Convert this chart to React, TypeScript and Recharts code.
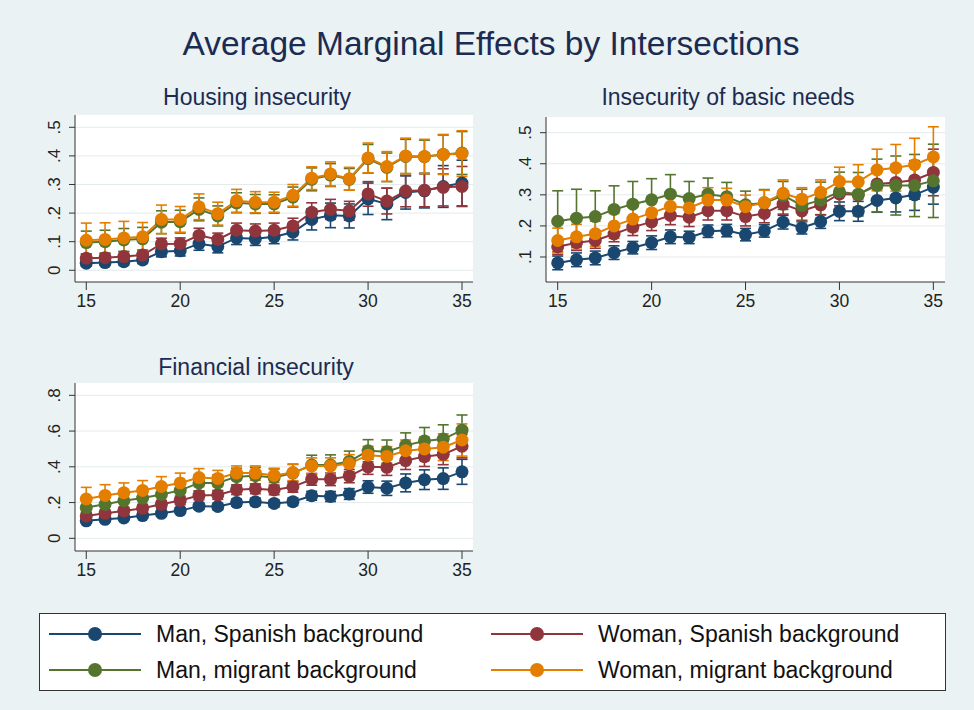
import { LineChart, Line, XAxis, YAxis, CartesianGrid, ErrorBar } from "recharts";

const ages = [15, 16, 17, 18, 19, 20, 21, 22, 23, 24, 25, 26, 27, 28, 29, 30, 31, 32, 33, 34, 35];

const seriesLabels = ["Man, Spanish background", "Woman, Spanish background", "Man, migrant background", "Woman, migrant background"];
const seriesColors = ["#1a476f", "#90353b", "#55752f", "#e37e00"];

// Housing insecurity
const housingManSp = [0.025, 0.027, 0.03, 0.036, 0.065, 0.068, 0.093, 0.083, 0.113, 0.11, 0.117, 0.133, 0.178, 0.192, 0.19, 0.25, 0.232, 0.272, 0.278, 0.293, 0.305];
const housingManSpCi = [0.01, 0.01, 0.012, 0.012, 0.018, 0.018, 0.023, 0.022, 0.023, 0.023, 0.024, 0.027, 0.037, 0.043, 0.042, 0.055, 0.055, 0.058, 0.06, 0.073, 0.08];
const housingWomanSp = [0.042, 0.044, 0.048, 0.053, 0.092, 0.093, 0.122, 0.108, 0.14, 0.137, 0.14, 0.155, 0.203, 0.213, 0.208, 0.267, 0.242, 0.277, 0.28, 0.29, 0.293];
const housingWomanSpCi = [0.015, 0.015, 0.017, 0.017, 0.02, 0.02, 0.025, 0.022, 0.025, 0.025, 0.025, 0.027, 0.033, 0.035, 0.033, 0.043, 0.045, 0.055, 0.058, 0.065, 0.07];
const housingManMig = [0.097, 0.1, 0.106, 0.11, 0.168, 0.17, 0.213, 0.19, 0.236, 0.232, 0.232, 0.256, 0.318, 0.333, 0.318, 0.39, 0.36, 0.398, 0.397, 0.405, 0.41];
const housingManMigCi = [0.04, 0.04, 0.04, 0.04, 0.04, 0.04, 0.04, 0.035, 0.035, 0.033, 0.032, 0.035, 0.04, 0.04, 0.038, 0.05, 0.05, 0.06, 0.058, 0.068, 0.075];
const housingWomanMig = [0.105, 0.108, 0.113, 0.117, 0.178, 0.178, 0.222, 0.198, 0.243, 0.238, 0.238, 0.262, 0.322, 0.337, 0.32, 0.393, 0.363, 0.4, 0.398, 0.405, 0.408];
const housingWomanMigCi = [0.06, 0.058, 0.058, 0.05, 0.05, 0.045, 0.045, 0.04, 0.04, 0.037, 0.035, 0.038, 0.04, 0.042, 0.04, 0.052, 0.052, 0.062, 0.06, 0.07, 0.08];

// Insecurity of basic needs
const basicManSp = [0.081, 0.091, 0.097, 0.114, 0.13, 0.146, 0.165, 0.163, 0.183, 0.185, 0.172, 0.184, 0.212, 0.194, 0.214, 0.247, 0.247, 0.282, 0.29, 0.3, 0.325];
const basicManSpCi = [0.022, 0.022, 0.022, 0.022, 0.02, 0.022, 0.022, 0.02, 0.02, 0.02, 0.02, 0.02, 0.022, 0.02, 0.022, 0.03, 0.032, 0.038, 0.045, 0.05, 0.055];
const basicWomanSp = [0.133, 0.146, 0.153, 0.174, 0.196, 0.213, 0.234, 0.228, 0.249, 0.249, 0.23, 0.24, 0.27, 0.248, 0.268, 0.303, 0.3, 0.335, 0.34, 0.348, 0.372];
const basicWomanSpCi = [0.025, 0.025, 0.025, 0.025, 0.027, 0.028, 0.03, 0.03, 0.03, 0.03, 0.03, 0.03, 0.032, 0.03, 0.032, 0.038, 0.04, 0.048, 0.055, 0.062, 0.075];
const basicManMig = [0.215, 0.225, 0.23, 0.253, 0.27, 0.284, 0.302, 0.288, 0.302, 0.294, 0.268, 0.274, 0.298, 0.266, 0.283, 0.31, 0.302, 0.33, 0.33, 0.33, 0.345];
const basicManMigCi = [0.098, 0.093, 0.083, 0.076, 0.073, 0.068, 0.063, 0.055, 0.052, 0.046, 0.044, 0.043, 0.045, 0.052, 0.058, 0.063, 0.07, 0.085, 0.095, 0.1, 0.118];
const basicWomanMig = [0.153, 0.165, 0.175, 0.2, 0.222, 0.242, 0.263, 0.258, 0.283, 0.283, 0.262, 0.275, 0.305, 0.286, 0.308, 0.343, 0.342, 0.38, 0.387, 0.397, 0.422];
const basicWomanMigCi = [0.04, 0.04, 0.04, 0.04, 0.04, 0.04, 0.04, 0.04, 0.04, 0.038, 0.037, 0.04, 0.043, 0.037, 0.04, 0.046, 0.055, 0.067, 0.075, 0.085, 0.097];

// Financial insecurity
const financeManSp = [0.098, 0.106, 0.114, 0.127, 0.14, 0.155, 0.18, 0.178, 0.2, 0.204, 0.195, 0.205, 0.238, 0.234, 0.248, 0.287, 0.28, 0.31, 0.328, 0.334, 0.372];
const financeManSpCi = [0.012, 0.012, 0.013, 0.014, 0.015, 0.016, 0.018, 0.018, 0.02, 0.02, 0.02, 0.021, 0.025, 0.028, 0.03, 0.035, 0.04, 0.05, 0.055, 0.06, 0.07];
const financeWomanSp = [0.125, 0.14, 0.153, 0.168, 0.19, 0.212, 0.24, 0.243, 0.272, 0.277, 0.271, 0.288, 0.33, 0.33, 0.348, 0.4, 0.397, 0.435, 0.457, 0.47, 0.515];
const financeWomanSpCi = [0.02, 0.02, 0.02, 0.022, 0.022, 0.024, 0.025, 0.025, 0.027, 0.027, 0.027, 0.03, 0.033, 0.035, 0.037, 0.042, 0.045, 0.05, 0.055, 0.058, 0.065];
const financeManMig = [0.172, 0.19, 0.21, 0.225, 0.245, 0.268, 0.31, 0.31, 0.345, 0.35, 0.34, 0.365, 0.41, 0.41, 0.43, 0.49, 0.485, 0.52, 0.545, 0.555, 0.605];
const financeManMigCi = [0.04, 0.04, 0.04, 0.04, 0.042, 0.045, 0.045, 0.045, 0.047, 0.047, 0.048, 0.05, 0.055, 0.057, 0.058, 0.062, 0.065, 0.07, 0.075, 0.08, 0.085];
const financeWomanMig = [0.22, 0.24, 0.255, 0.268, 0.29, 0.31, 0.34, 0.335, 0.365, 0.365, 0.352, 0.368, 0.405, 0.405, 0.418, 0.465, 0.458, 0.49, 0.5, 0.51, 0.55];
const financeWomanMigCi = [0.065, 0.06, 0.055, 0.055, 0.055, 0.055, 0.05, 0.045, 0.04, 0.04, 0.04, 0.045, 0.045, 0.045, 0.05, 0.05, 0.055, 0.06, 0.065, 0.075, 0.09];

const FONT = "'Liberation Sans', Arial, Helvetica, sans-serif";
const BG = "#eaf2f3";

function buildRows(means: number[][], cis: number[][]) {
  return ages.map((age, i) => {
    const row: any = { age };
    means.forEach((m, k) => {
      row["s" + k] = m[i];
      row["e" + k] = cis[k][i];
    });
    return row;
  });
}

const fmt = (v: number) => (v === 0 ? "0" : String(v).replace(/^0\./, "."));

const YTick = (props: any) => {
  const { x, y, payload } = props;
  return (
    <text x={x} y={y} transform={`rotate(-90, ${x}, ${y})`} textAnchor="middle" fontSize={17} fill="#222" fontFamily={FONT}>
      {fmt(payload.value)}
    </text>
  );
};

function Panel(props: {
  left: number; top: number; margin: any; yWidth: number; xHeight: number;
  rows: any[]; xDomain: number[]; yDomain: number[]; yTicks: number[];
}) {
  const { left, top, margin, yWidth, xHeight, rows, xDomain, yDomain, yTicks } = props;
  return (
    <div style={{ position: "absolute", left, top }}>
      <LineChart width={490} height={210} data={rows} margin={margin}>
        <CartesianGrid vertical={false} horizontalValues={yTicks} stroke="#e3ebed" fill="#ffffff" strokeWidth={1} />
        <XAxis
          dataKey="age"
          type="number"
          domain={xDomain}
          ticks={[15, 20, 25, 30, 35]}
          allowDataOverflow
          height={xHeight}
          tickSize={8}
          tickMargin={5}
          stroke="#333"
          tick={{ fill: "#222", fontSize: 17.5, fontFamily: FONT }}
        />
        <YAxis
          type="number"
          domain={yDomain}
          ticks={yTicks}
          allowDataOverflow
          width={yWidth}
          tickSize={6}
          tickMargin={9}
          stroke="#333"
          tick={<YTick />}
        />
        {seriesColors.map((c, k) => (
          <Line
            key={k}
            dataKey={"s" + k}
            stroke={c}
            strokeWidth={2}
            dot={{ r: 6.5, fill: c, stroke: c, strokeWidth: 0 }}
            activeDot={false}
            isAnimationActive={false}
          >
            <ErrorBar dataKey={"e" + k} width={5.5} stroke={c} strokeWidth={1.6} direction="y" isAnimationActive={false} />
          </Line>
        ))}
      </LineChart>
    </div>
  );
}

export default function App() {
  const housingRows = buildRows(
    [housingManSp, housingWomanSp, housingManMig, housingWomanMig],
    [housingManSpCi, housingWomanSpCi, housingManMigCi, housingWomanMigCi]
  );
  const basicRows = buildRows(
    [basicManSp, basicWomanSp, basicManMig, basicWomanMig],
    [basicManSpCi, basicWomanSpCi, basicManMigCi, basicWomanMigCi]
  );
  const financeRows = buildRows(
    [financeManSp, financeWomanSp, financeManMig, financeWomanMig],
    [financeManSpCi, financeWomanSpCi, financeManMigCi, financeWomanMigCi]
  );

  const legendPos = [
    { lx: 49, tx: 156, y: 634 },
    { lx: 491, tx: 598, y: 634 },
    { lx: 49, tx: 156, y: 670 },
    { lx: 491, tx: 598, y: 670 },
  ];

  return (
    <div style={{ position: "absolute", left: 0, top: 0, width: 974, height: 710, background: BG, fontFamily: FONT, overflow: "hidden" }}>
      <svg width={974} height={710} style={{ position: "absolute", left: 0, top: 0 }}>
        <text x={491} y={55} textAnchor="middle" fontSize={33.5} fill="#1c2b52" fontFamily={FONT}>
          Average Marginal Effects by Intersections
        </text>
        <text x={257} y={105} textAnchor="middle" fontSize={23} fill="#1c2b52" fontFamily={FONT}>Housing insecurity</text>
        <text x={728} y={105} textAnchor="middle" fontSize={23} fill="#1c2b52" fontFamily={FONT}>Insecurity of basic needs</text>
        <text x={256} y={375} textAnchor="middle" fontSize={23} fill="#1c2b52" fontFamily={FONT}>Financial insecurity</text>

        <rect x={39.5} y={613.5} width={906} height={77} fill="#ffffff" stroke="#333" strokeWidth={1} />
        {seriesLabels.map((label, k) => {
          const p = legendPos[k];
          return (
            <g key={k}>
              <line x1={p.lx} x2={p.lx + 92} y1={p.y} y2={p.y} stroke={seriesColors[k]} strokeWidth={2} />
              <circle cx={p.lx + 46} cy={p.y} r={7} fill={seriesColors[k]} />
              <text x={p.tx} y={p.y + 8} fontSize={23} fill="#111" fontFamily={FONT}>{label}</text>
            </g>
          );
        })}
      </svg>

      <Panel
        left={0} top={110}
        margin={{ top: 5, right: 17, left: 0, bottom: 0 }}
        yWidth={75} xHeight={38}
        rows={housingRows}
        xDomain={[14.4, 35.585]}
        yDomain={[-0.041, 0.543]}
        yTicks={[0, 0.1, 0.2, 0.3, 0.4, 0.5]}
      />
      <Panel
        left={470} top={110}
        margin={{ top: 7, right: 15, left: 0, bottom: 0 }}
        yWidth={76} xHeight={38}
        rows={basicRows}
        xDomain={[14.377, 35.62]}
        yDomain={[0.0195, 0.5505]}
        yTicks={[0.1, 0.2, 0.3, 0.4, 0.5]}
      />
      <Panel
        left={0} top={378}
        margin={{ top: 5, right: 17, left: 0, bottom: 0 }}
        yWidth={75} xHeight={37}
        rows={financeRows}
        xDomain={[14.4, 35.585]}
        yDomain={[-0.071, 0.869]}
        yTicks={[0, 0.2, 0.4, 0.6, 0.8]}
      />
    </div>
  );
}
